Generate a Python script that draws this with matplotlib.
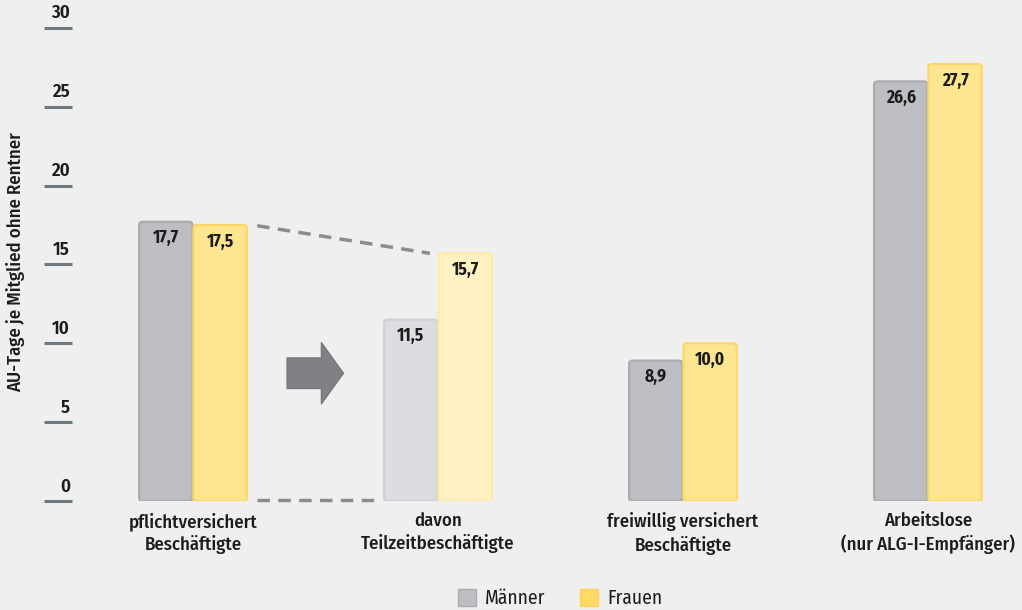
import matplotlib
matplotlib.use("Agg")
import matplotlib.pyplot as plt
from matplotlib.patches import FancyBboxPatch, FancyArrowPatch, Patch
from matplotlib.transforms import blended_transform_factory

plt.rcParams['font.family'] = ['Fira Sans Condensed', 'IBM Plex Sans Condensed', 'DejaVu Sans']

# data
categories = ["pflichtversichert\nBeschäftigte", "davon\nTeilzeitbeschäftigte",
              "freiwillig versichert\nBeschäftigte", "Arbeitslose\n(nur ALG-I-Empfänger)"]
maenner = [17.7, 11.5, 8.9, 26.6]
frauen = [17.5, 15.7, 10.0, 27.7]
value_labels_m = ["17,7", "11,5", "8,9", "26,6"]
value_labels_f = ["17,5", "15,7", "10,0", "27,7"]
yticks = [0, 5, 10, 15, 20, 25, 30]
series_names = ["Männer", "Frauen"]

bg = "#efefef"
grey, grey_edge = "#bdbec2", "#abacb0"
yellow, yellow_edge = "#fee590", "#fdd766"
grey_light, grey_light_edge = "#dcdde0", "#d0d1d4"
yellow_light, yellow_light_edge = "#fff1c2", "#fee9a6"
text_col = "#1c1c1c"

fig = plt.figure(figsize=(10.22, 6.10), dpi=100, facecolor=bg)
W, H = 1022, 610
ax = fig.add_axes([72 / W, 109 / H, 938 / W, 489 / H])
ax.set_facecolor(bg)
ax.set_xlim(-0.494, 3.335)
ax.set_ylim(0, 31)
for s in ax.spines.values():
    s.set_visible(False)

bw = 0.222
x = list(range(len(categories)))
bars_m = ax.bar([i - bw / 2 for i in x], maenner, width=bw)
bars_f = ax.bar([i + bw / 2 for i in x], frauen, width=bw)

# aspect ratio of data units per pixel (y / x) for rounded corners
aspect = (31 / 489) / (3.829 / 938)

def rounded(rects, fills, edges):
    for r, fc, ec in zip(rects, fills, edges):
        r.set_visible(False)
        p = FancyBboxPatch((r.get_x() + 0.002, r.get_y()), r.get_width() - 0.004, r.get_height(),
                           boxstyle="round,pad=0,rounding_size=0.014",
                           mutation_aspect=aspect, facecolor=fc, edgecolor=ec,
                           linewidth=1.6, zorder=2)
        ax.add_patch(p)

rounded(bars_m, [grey, grey_light, grey, grey], [grey_edge, grey_light_edge, grey_edge, grey_edge])
rounded(bars_f, [yellow, yellow_light, yellow, yellow],
        [yellow_edge, yellow_light_edge, yellow_edge, yellow_edge])

for rects, labels in ((bars_m, value_labels_m), (bars_f, value_labels_f)):
    for r, lab in zip(rects, labels):
        ax.annotate(lab, (r.get_x() + r.get_width() / 2, r.get_height()),
                    xytext=(0, -5.5), textcoords="offset points", ha="center", va="top",
                    fontsize=12.5, fontweight="bold", color=text_col, zorder=3)

# dashed connector lines between group 1 and group 2
ax.plot([0.262, 0.967], [frauen[0] - 0.05, frauen[1]], linestyle=(0, (3.6, 2.4)),
        color="#8c8c8e", linewidth=2.5, zorder=1)
ax.plot([0.262, 0.743], [0.05, 0.05], linestyle=(0, (3.6, 2.4)),
        color="#8c8c8e", linewidth=2.5, zorder=1, clip_on=False)

# arrow
arrow = FancyArrowPatch((0.384, 8.1), (0.614, 8.1),
                        arrowstyle="simple,head_length=0.36,head_width=1.0,tail_width=0.5",
                        mutation_scale=44, shrinkA=0, shrinkB=0,
                        facecolor="#808184", edgecolor="#77787b", linewidth=1, zorder=2)
ax.add_patch(arrow)

# y ticks as underlines with labels above
ax.set_yticks(yticks)
ax.set_yticklabels([])
ax.tick_params(axis="y", length=20, width=2.2, color="#6f7a80", direction="out")
trans = blended_transform_factory(ax.transAxes, ax.transData)
for t in yticks:
    ax.annotate(str(t), (0, t), xycoords=trans, xytext=(-1.5, 4), textcoords="offset points",
                ha="right", va="bottom", fontsize=13.5, fontweight="semibold", color=text_col)

ax.set_xticks(x)
ax.set_xticklabels(categories, fontsize=13.5, fontweight="medium", color=text_col, linespacing=1.3)
ax.tick_params(axis="x", length=0, pad=8)

fig.text(16 / W, 1 - 262 / H, "AU-Tage je Mitglied ohne Rentner", rotation=90,
         ha="center", va="center", fontsize=13.5, fontweight="medium", color=text_col)

handles = [Patch(facecolor=grey, edgecolor=grey_edge), Patch(facecolor="#fed964", edgecolor="#fdd25a")]
leg = fig.legend(handles, series_names, loc="lower center", bbox_to_anchor=(0.548, -0.026),
                 ncol=2, frameon=False, prop={"size": 14}, handlelength=0.93, handleheight=0.93,
                 columnspacing=1.8, handletextpad=0.45)
for txt in leg.get_texts():
    txt.set_color(text_col)

fig.savefig("out.png", dpi=100, facecolor=bg)
